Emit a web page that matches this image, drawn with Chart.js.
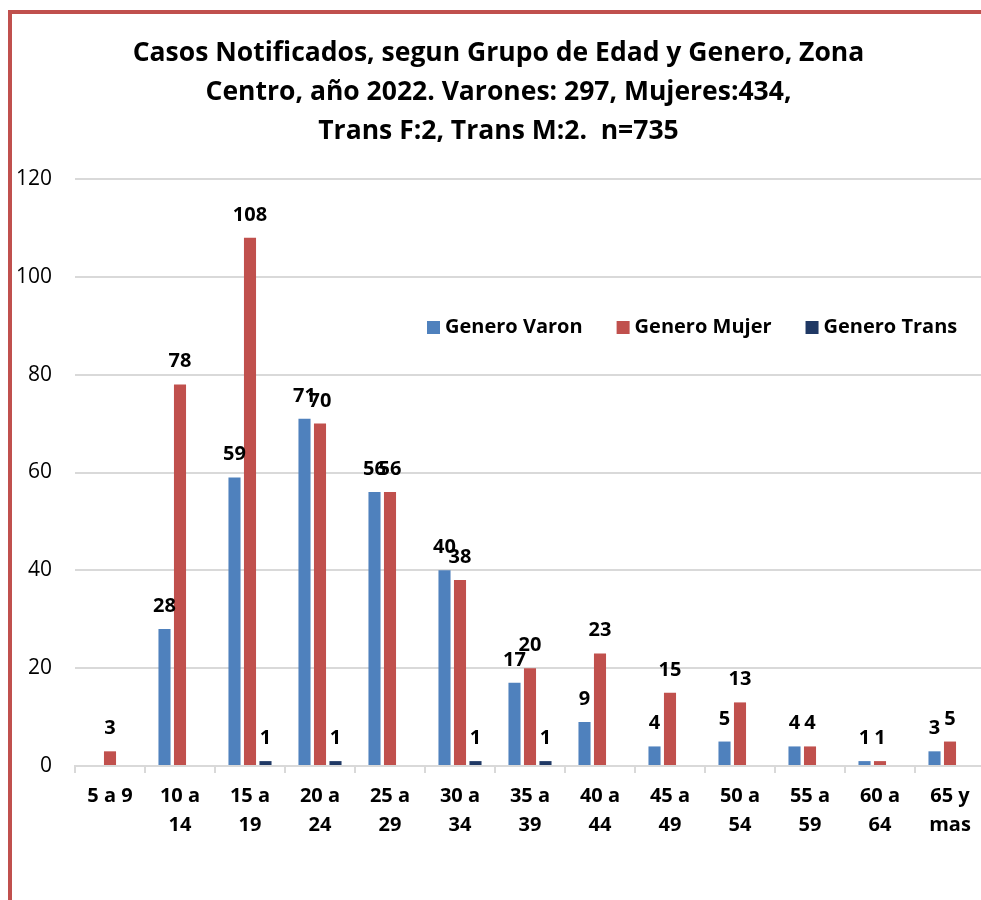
<!DOCTYPE html>
<html lang="es">
<head>
<meta charset="utf-8" />
<title>Casos Notificados Zona Centro 2022</title>
<script src="https://cdn.jsdelivr.net/npm/chart.js@4"></script>
<style>
    html, body { margin: 0; padding: 0; background: #fff; overflow: hidden; }
    #wrap { position: absolute; left: 0; top: 0; width: 995px; height: 900px; }
    .frame { position: absolute; background: #c0504d; }
</style>
</head>
<body>
<div class="frame" style="left:8px; top:10px; width:990px; height:4px;"></div>
<div class="frame" style="left:8px; top:10px; width:4px; height:900px;"></div>
<div id="wrap"><canvas id="chart"></canvas></div>
<script>
    var grupos = [['5 a 9'], ['10 a', '14'], ['15 a', '19'], ['20 a', '24'], ['25 a', '29'], ['30 a', '34'],
        ['35 a', '39'], ['40 a', '44'], ['45 a', '49'], ['50 a', '54'], ['55 a', '59'], ['60 a', '64'], ['65 y', 'mas']];
    var varon = [null, 28, 59, 71, 56, 40, 17, 9, 4, 5, 4, 1, 3];
    var mujer = [3, 78, 108, 70, 56, 38, 20, 23, 15, 13, 4, 1, 5];
    var trans = [null, null, 1, 1, null, 1, 1, null, null, null, null, null, null];
    var titulo = ['Casos Notificados, segun Grupo de Edad y Genero, Zona',
        'Centro, año 2022. Varones: 297, Mujeres:434,',
        'Trans F:2, Trans M:2.  n=735'];

    var FONT = "'Open Sans', 'DejaVu Sans', sans-serif";

    // value labels above every bar
    var barLabels = {
        id: 'barLabels',
        afterDatasetsDraw: function (chart) {
            var ctx = chart.ctx;
            ctx.save();
            ctx.font = 'bold 20px ' + FONT;
            ctx.fillStyle = '#000';
            ctx.textAlign = 'center';
            ctx.textBaseline = 'alphabetic';
            chart.data.datasets.forEach(function (ds, i) {
                chart.getDatasetMeta(i).data.forEach(function (bar, j) {
                    if (ds.data[j] == null) return;
                    ctx.fillText(String(ds.data[j]), bar.x, bar.y - 17);
                });
            });
            ctx.restore();
        }
    };

    // legend sits inside the plot area
    var innerLegend = {
        id: 'innerLegend',
        afterDraw: function (chart) {
            var ctx = chart.ctx;
            var x = chart.chartArea.left + 352;
            var y = 327.5;
            ctx.save();
            ctx.font = 'bold 20px ' + FONT;
            ctx.textBaseline = 'middle';
            ctx.textAlign = 'left';
            chart.data.datasets.forEach(function (ds) {
                ctx.fillStyle = ds.backgroundColor;
                ctx.fillRect(x, y - 6.5, 13, 13);
                ctx.fillStyle = '#000';
                ctx.fillText(ds.label, x + 18, y);
                x += 18 + ctx.measureText(ds.label).width + 34;
            });
            ctx.restore();
        }
    };

    new Chart(document.getElementById('chart'), {
        type: 'bar',
        data: {
            labels: grupos,
            datasets: [
                { label: 'Genero Varon', data: varon, backgroundColor: '#4f81bd' },
                { label: 'Genero Mujer', data: mujer, backgroundColor: '#c0504d' },
                { label: 'Genero Trans', data: trans, backgroundColor: '#1f3864' }
            ]
        },
        options: {
            responsive: true,
            maintainAspectRatio: false,
            animation: false,
            categoryPercentage: 0.664,
            barPercentage: 0.78,
            layout: { padding: { left: 12, right: 10, top: 0, bottom: 0 } },
            plugins: {
                legend: { display: false },
                tooltip: { enabled: false },
                title: {
                    display: true,
                    text: titulo,
                    color: '#000',
                    font: { family: FONT, size: 26.5, weight: 'bold', lineHeight: '39px' },
                    padding: { top: 34, bottom: 28 }
                }
            },
            scales: {
                x: {
                    afterFit: function (s) { s.height = 134; },
                    grid: { drawOnChartArea: false, drawTicks: true, tickLength: 7, color: '#d9d9d9', lineWidth: 2 },
                    border: { display: true, color: '#d9d9d9', width: 2 },
                    ticks: {
                        color: '#000', padding: 9, maxRotation: 0, autoSkip: false,
                        font: { family: FONT, size: 20, weight: 'bold', lineHeight: '29px' }
                    }
                },
                y: {
                    min: 0,
                    max: 120,
                    afterFit: function (s) { s.width = 63; },
                    grid: { color: '#d9d9d9', lineWidth: 2, drawTicks: false },
                    border: { display: false },
                    ticks: {
                        stepSize: 20, padding: 23, color: '#000',
                        font: { family: FONT, size: 21 }
                    }
                }
            }
        },
        plugins: [barLabels, innerLegend]
    });
</script>
</body>
</html>
